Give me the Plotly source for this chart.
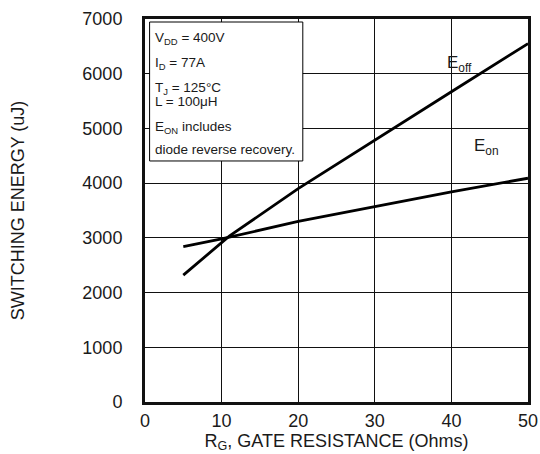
import plotly.graph_objects as go

rg_off = [5, 11, 20, 30, 40, 50]
e_off = [2320, 3030, 3900, 4790, 5670, 6550]
rg_on = [5, 10, 20, 30, 40, 50]
e_on = [2840, 2980, 3300, 3570, 3840, 4090]

x_ticks = [0, 10, 20, 30, 40, 50]
y_ticks = [0, 1000, 2000, 3000, 4000, 5000, 6000, 7000]

box_lines = ["V<sub>DD</sub> = 400V", "I<sub>D</sub> = 77A", "T<sub>J</sub> = 125°C",
             "L = 100μH", "E<sub>ON</sub> includes", "diode reverse recovery."]
box_line_y = [6644, 6178, 5721, 5501, 5008, 4624]

FONT = "Liberation Sans, Arial, sans-serif"
TXT = "#1a1a1a"

fig = go.Figure()
fig.add_trace(go.Scatter(x=rg_off, y=e_off, mode="lines",
                         line=dict(color="black", width=2.8), name="Eoff"))
fig.add_trace(go.Scatter(x=rg_on, y=e_on, mode="lines",
                         line=dict(color="black", width=2.8), name="Eon"))

fig.update_layout(
    width=540, height=454,
    margin=dict(l=145, r=12, t=19, b=52),
    paper_bgcolor="white", plot_bgcolor="white",
    showlegend=False,
    font=dict(family=FONT, color=TXT),
)
fig.update_xaxes(
    range=[0, 50], tickvals=x_ticks, showgrid=True, automargin=False,
    gridcolor="#111111", gridwidth=1, showline=True, linecolor="#111111",
    linewidth=3, mirror=True, zeroline=False,
    tickfont=dict(size=18, color=TXT),
    title=dict(text="R<sub>G</sub>, GATE RESISTANCE (Ohms)",
               font=dict(size=18, color=TXT), standoff=0),
)
fig.update_yaxes(
    range=[0, 7000], tickvals=y_ticks, showgrid=True, automargin=False,
    gridcolor="#111111", gridwidth=1, showline=True, linecolor="#111111",
    linewidth=3, mirror=True, zeroline=False,
    tickfont=dict(size=18, color=TXT), ticklabelstandoff=16,
    title=dict(text="SWITCHING ENERGY (uJ)",
               font=dict(size=18, color=TXT), standoff=54),
)

# info box
fig.add_shape(type="rect", xref="x", yref="y", x0=0.6, x1=20.6, y0=4405, y1=6945,
              line=dict(color="black", width=1), fillcolor="white", layer="above")
for txt, yy in zip(box_lines, box_line_y):
    fig.add_annotation(x=1.0, y=yy, xref="x", yref="y", text=txt,
                       showarrow=False, xanchor="left", yanchor="middle", align="left",
                       font=dict(size=13.5, color=TXT, family=FONT))

fig.add_annotation(x=41.0, y=6170, xref="x", yref="y", text="E<sub>off</sub>",
                   showarrow=False, font=dict(size=17, color=TXT, family=FONT))
fig.add_annotation(x=44.6, y=4660, xref="x", yref="y", text="E<sub>on</sub>",
                   showarrow=False, font=dict(size=17, color=TXT, family=FONT))

fig.write_html("out.html", config={"displayModeBar": False},
               post_script="document.body.style.margin='0';"
                           "document.body.style.overflow='hidden';")
